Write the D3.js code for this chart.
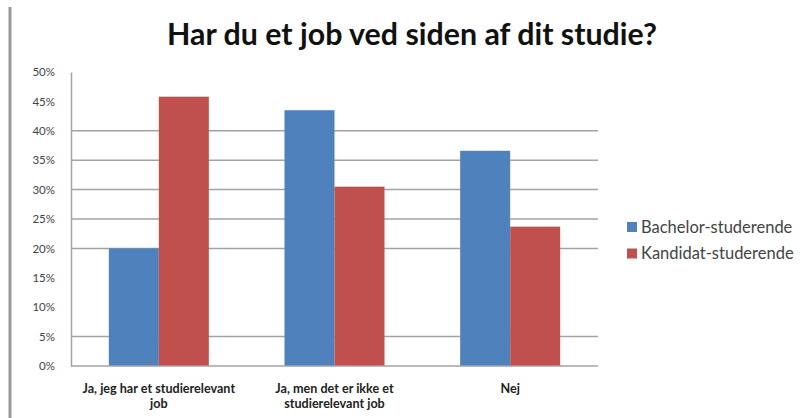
<!DOCTYPE html>
<html lang="da">
<head>
<meta charset="utf-8">
<script src="https://d3js.org/d3.v7.min.js"></script>
<style>
  body { margin: 0; background: #fff; }
  svg { display: block; }
</style>
</head>
<body>
<svg id="chart" width="805" height="418"></svg>
<script>
// values
const categories = [
  ["Ja, jeg har et studierelevant", "job"],
  ["Ja, men det er ikke et", "studierelevant job"],
  ["Nej"]
];
const seriesNames = ["Bachelor-studerende", "Kandidat-studerende"];
const bachelor = [0.200, 0.435, 0.366];
const kandidat = [0.458, 0.305, 0.237];
const yTicks = [0, 0.05, 0.10, 0.15, 0.20, 0.25, 0.30, 0.35, 0.40, 0.45, 0.50];
// only these gridlines show in the reference
const gridTicks = [0.05, 0.20, 0.25, 0.30, 0.35, 0.40];
const colors = ["#4F81BD", "#C0504D"];

const svg = d3.select("#chart");
const plotL = 71, plotR = 598, plotT = 72, plotB = 366;

// scale a text's font so it spans the given width
function fitWidth(sel, w) {
  const fs = parseFloat(sel.style("font-size"));
  const cur = sel.node().getComputedTextLength();
  sel.style("font-size", (fs * w / cur).toFixed(2) + "px");
}

// frame line at the left edge
svg.append("line")
  .attr("x1", 10).attr("x2", 10).attr("y1", 7).attr("y2", 418)
  .attr("stroke", "#9a9a9a").attr("stroke-width", 3);

const title = svg.append("text")
  .attr("x", 412).attr("y", 45)
  .attr("text-anchor", "middle")
  .style("font-family", "Lato, sans-serif")
  .style("font-weight", 700)
  .style("font-size", "26px")
  .attr("fill", "#111")
  .text("Har du et job ved siden af dit studie?");
fitWidth(title, 490);

const keys = d3.range(categories.length);
const x0 = d3.scaleBand().domain(keys).range([plotL, plotR])
  .paddingInner(0.4307).paddingOuter(0.2153);
const x1 = d3.scaleBand().domain(seriesNames).range([0, x0.bandwidth()]);
const y = d3.scaleLinear().domain([0, 0.5]).range([plotB, plotT]);

// gridlines
svg.append("g").selectAll("line")
  .data(gridTicks).enter().append("line")
  .attr("x1", plotL).attr("x2", plotR)
  .attr("y1", d => y(d)).attr("y2", d => y(d))
  .attr("stroke", "#a3a3a3").attr("stroke-width", 1.5);

// y axis
const yAxis = d3.axisLeft(y).tickValues(yTicks).tickFormat(d3.format(".0%")).tickSize(0).tickPadding(16);
const yg = svg.append("g").attr("transform", `translate(${plotL},0)`).call(yAxis);
yg.select(".domain").attr("stroke", "#a3a3a3").attr("stroke-width", 1.5);
yg.selectAll("text")
  .style("font-family", "Lato, sans-serif")
  .style("font-size", "11.5px")
  .attr("fill", "#444");

// bars
const data = [bachelor, kandidat];
keys.forEach(i => {
  seriesNames.forEach((s, j) => {
    svg.append("rect")
      .attr("x", x0(i) + x1(s))
      .attr("y", y(data[j][i]))
      .attr("width", x1.bandwidth())
      .attr("height", plotB - y(data[j][i]))
      .attr("fill", colors[j]);
  });
});

// x axis line
svg.append("line")
  .attr("x1", plotL).attr("x2", plotR).attr("y1", plotB).attr("y2", plotB)
  .attr("stroke", "#a3a3a3").attr("stroke-width", 1.5);

// category labels
keys.forEach(i => {
  const t = svg.append("text")
    .attr("x", x0(i) + x0.bandwidth() / 2)
    .attr("y", 393)
    .attr("text-anchor", "middle")
    .style("font-family", "Lato, sans-serif")
    .style("font-weight", 700)
    .style("font-size", "12.6px")
    .attr("fill", "#222");
  categories[i].forEach((line, k) => {
    t.append("tspan")
      .attr("x", x0(i) + x0.bandwidth() / 2)
      .attr("dy", k === 0 ? 0 : 15)
      .text(line);
  });
});

// legend
const lg = svg.append("g");
seriesNames.forEach((s, j) => {
  const cy = 227 + j * 26.5;
  lg.append("rect")
    .attr("x", 627).attr("y", cy - 5)
    .attr("width", 10).attr("height", 10)
    .attr("fill", colors[j]);
  lg.append("text")
    .attr("x", 641).attr("y", cy + 5.5)
    .style("font-family", "Lato, sans-serif")
    .style("font-size", "16.5px")
    .attr("fill", "#444")
    .text(s);
});
</script>
</body>
</html>
